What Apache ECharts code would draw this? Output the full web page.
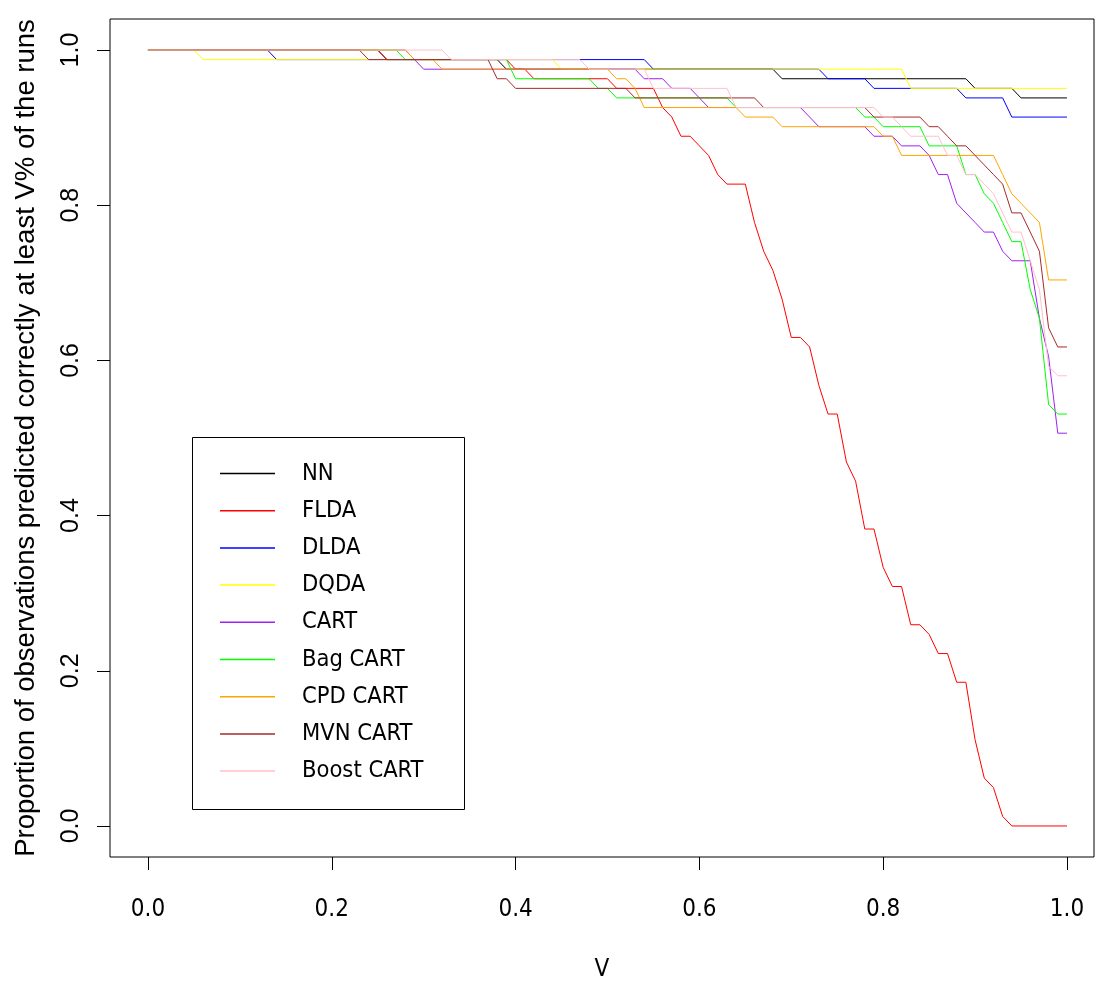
<!DOCTYPE html>
<html>
<head>
<meta charset="utf-8">
<script src="https://cdn.jsdelivr.net/npm/echarts@6/dist/echarts.min.js"></script>
<style>
  html, body { margin: 0; padding: 0; background: #fff; }
  #chart { width: 1095px; height: 990px; }
</style>
</head>
<body>
<div id="chart"></div>
<script>
// vertices of each curve: [V, proportion predicted correctly]
const nn = [[0,1],[0.25,1],[0.26,0.9877],[0.38,0.9877],[0.39,0.9753],[0.68,0.9753],[0.69,0.963],[0.89,0.963],[0.90,0.9506],[0.94,0.9506],[0.95,0.9383],[1,0.9383]];
const flda = [[0,1],[0.25,1],[0.26,0.9877],[0.39,0.9877],[0.40,0.9753],[0.41,0.9753],[0.42,0.963],[0.50,0.963],[0.51,0.9506],[0.55,0.9506],[0.56,0.9259],[0.57,0.9136],[0.58,0.8889],[0.59,0.8889],[0.60,0.8765],[0.61,0.8642],[0.62,0.8395],[0.63,0.8272],[0.65,0.8272],[0.66,0.7778],[0.67,0.7407],[0.68,0.716],[0.69,0.679],[0.70,0.6296],[0.71,0.6296],[0.72,0.6173],[0.73,0.5679],[0.74,0.5309],[0.75,0.5309],[0.76,0.4691],[0.77,0.4444],[0.78,0.3827],[0.79,0.3827],[0.80,0.3333],[0.81,0.3086],[0.82,0.3086],[0.83,0.2593],[0.84,0.2593],[0.85,0.2469],[0.86,0.2222],[0.87,0.2222],[0.88,0.1852],[0.89,0.1852],[0.90,0.1111],[0.91,0.0617],[0.92,0.0494],[0.93,0.0123],[0.94,0],[1,0]];
const dlda = [[0,1],[0.13,1],[0.14,0.9877],[0.54,0.9877],[0.55,0.9753],[0.73,0.9753],[0.74,0.963],[0.78,0.963],[0.79,0.9506],[0.88,0.9506],[0.89,0.9383],[0.93,0.9383],[0.94,0.9136],[1,0.9136]];
const dqda = [[0,1],[0.05,1],[0.06,0.9877],[0.44,0.9877],[0.45,0.9753],[0.82,0.9753],[0.83,0.9506],[1,0.9506]];
const cart = [[0,1],[0.28,1],[0.29,0.9877],[0.30,0.9753],[0.53,0.9753],[0.54,0.963],[0.56,0.963],[0.57,0.9506],[0.59,0.9506],[0.60,0.9383],[0.61,0.9259],[0.71,0.9259],[0.72,0.9136],[0.73,0.9012],[0.78,0.9012],[0.79,0.8889],[0.81,0.8889],[0.82,0.8765],[0.84,0.8765],[0.85,0.8642],[0.86,0.8395],[0.87,0.8395],[0.88,0.8025],[0.89,0.7901],[0.90,0.7778],[0.91,0.7654],[0.92,0.7654],[0.93,0.7407],[0.94,0.7284],[0.96,0.7284],[0.97,0.6543],[0.98,0.6049],[0.99,0.5062],[1,0.5062]];
const bagCart = [[0,1],[0.27,1],[0.28,0.9877],[0.39,0.9877],[0.40,0.963],[0.48,0.963],[0.49,0.9506],[0.50,0.9506],[0.51,0.9383],[0.63,0.9383],[0.64,0.9259],[0.77,0.9259],[0.78,0.9136],[0.79,0.9136],[0.80,0.9012],[0.84,0.9012],[0.85,0.8765],[0.88,0.8765],[0.89,0.8395],[0.90,0.8395],[0.91,0.8148],[0.92,0.8025],[0.93,0.7778],[0.94,0.7531],[0.95,0.7531],[0.96,0.6914],[0.97,0.6543],[0.98,0.5432],[0.99,0.5309],[1,0.5309]];
const cpdCart = [[0,1],[0.28,1],[0.29,0.9877],[0.31,0.9877],[0.32,0.9753],[0.50,0.9753],[0.51,0.963],[0.52,0.963],[0.53,0.9506],[0.54,0.9259],[0.64,0.9259],[0.65,0.9136],[0.68,0.9136],[0.69,0.9012],[0.79,0.9012],[0.80,0.8889],[0.81,0.8889],[0.82,0.8642],[0.92,0.8642],[0.93,0.8395],[0.94,0.8148],[0.95,0.8025],[0.96,0.7901],[0.97,0.7778],[0.98,0.7037],[1,0.7037]];
const mvnCart = [[0,1],[0.23,1],[0.24,0.9877],[0.37,0.9877],[0.38,0.963],[0.39,0.963],[0.40,0.9506],[0.52,0.9506],[0.53,0.9383],[0.66,0.9383],[0.67,0.9259],[0.78,0.9259],[0.79,0.9136],[0.84,0.9136],[0.85,0.9012],[0.86,0.9012],[0.87,0.8889],[0.88,0.8765],[0.89,0.8765],[0.90,0.8642],[0.91,0.8519],[0.92,0.8395],[0.93,0.8272],[0.94,0.7901],[0.95,0.7901],[0.96,0.7654],[0.97,0.7407],[0.98,0.642],[0.99,0.6173],[1,0.6173]];
const boostCart = [[0,1],[0.32,1],[0.33,0.9877],[0.47,0.9877],[0.48,0.9753],[0.54,0.9753],[0.55,0.9506],[0.63,0.9506],[0.64,0.9259],[0.79,0.9259],[0.80,0.9136],[0.81,0.9136],[0.82,0.9012],[0.83,0.8889],[0.86,0.8889],[0.87,0.8642],[0.88,0.8642],[0.89,0.8395],[0.90,0.8395],[0.91,0.8272],[0.92,0.8148],[0.93,0.7901],[0.94,0.7654],[0.95,0.7654],[0.96,0.7284],[0.97,0.6914],[0.98,0.5926],[0.99,0.5802],[1,0.5802]];

const methodNames = ['NN', 'FLDA', 'DLDA', 'DQDA', 'CART', 'Bag CART', 'CPD CART', 'MVN CART', 'Boost CART'];
const methodData = [nn, flda, dlda, dqda, cart, bagCart, cpdCart, mvnCart, boostCart];
const methodColors = ['#000000', '#ff0000', '#0000ff', '#ffff00', '#a020f0', '#00ff00', '#ffa500', '#a52a2a', '#ffc0cb'];

const xTicks = [0, 0.2, 0.4, 0.6, 0.8, 1.0];
const yTicks = [0, 0.2, 0.4, 0.6, 0.8, 1.0];

// horizontal text in the picture is squeezed, so a condensed face is used for it
const narrow = "'Liberation Sans Narrow', 'DejaVu Sans Condensed', sans-serif";
const normal = "'Liberation Sans', Arial, sans-serif";

const chart = echarts.init(document.getElementById('chart'));

chart.setOption({
    animation: false,
    backgroundColor: '#fff',
    grid: {
        left: 110,
        top: 19,
        width: 984,
        height: 838,
        show: true,
        borderColor: '#000',
        borderWidth: 1,
        backgroundColor: 'transparent'
    },
    legend: {
        orient: 'vertical',
        left: 220,
        top: 461,
        padding: 0,
        icon: 'rect',
        itemWidth: 55,
        itemHeight: 1.5,
        itemGap: 12.2,
        data: methodNames,
        textStyle: {
            fontFamily: narrow,
            fontSize: 23.5,
            lineHeight: 25,
            color: '#000',
            padding: [0, 0, 0, 22]
        }
    },
    graphic: [{
        type: 'rect',
        shape: {x: 192.5, y: 437.5, width: 272, height: 372},
        style: {fill: 'none', stroke: '#000', lineWidth: 1},
        silent: true
    }],
    xAxis: {
        type: 'value',
        min: -0.0413,
        max: 1.0294,
        name: 'V',
        nameLocation: 'middle',
        nameGap: 101,
        nameTextStyle: {fontFamily: narrow, fontSize: 24, color: '#000'},
        axisLine: {show: false, onZero: false},
        splitLine: {show: false},
        axisTick: {show: true, inside: false, length: 13, customValues: xTicks, lineStyle: {color: '#000'}},
        axisLabel: {
            customValues: xTicks,
            margin: 41,
            fontFamily: narrow,
            fontSize: 24,
            color: '#000',
            formatter: v => v.toFixed(1)
        }
    },
    yAxis: {
        type: 'value',
        min: -0.04,
        max: 1.04,
        name: 'Proportion of observations predicted correctly at least V% of the runs',
        nameLocation: 'middle',
        nameRotate: 90,
        nameGap: 70,
        nameTextStyle: {fontFamily: normal, fontSize: 27.5, color: '#000'},
        axisLine: {show: false, onZero: false},
        splitLine: {show: false},
        axisTick: {show: true, inside: false, length: 13, customValues: yTicks, lineStyle: {color: '#000'}},
        axisLabel: {
            customValues: yTicks,
            rotate: 90,
            margin: 26,
            fontFamily: normal,
            fontSize: 25,
            color: '#000',
            formatter: v => v.toFixed(1)
        }
    },
    series: methodNames.map((name, i) => ({
        name: name,
        type: 'line',
        data: methodData[i],
        symbol: 'none',
        color: methodColors[i],
        lineStyle: {width: 1, color: methodColors[i]}
    }))
});
</script>
</body>
</html>
